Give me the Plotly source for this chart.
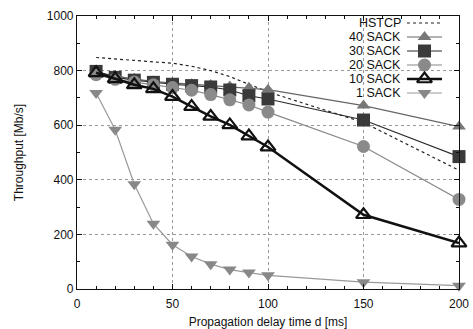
import plotly.graph_objects as go

delay = [10, 20, 30, 40, 50, 60, 70, 80, 90, 100, 150, 200]
hstcp = [848, 842, 837, 832, 827, 816, 800, 778, 750, 722, 610, 435]
sack40 = [795, 780, 770, 760, 755, 750, 747, 742, 737, 730, 672, 595]
sack30 = [797, 775, 765, 757, 750, 745, 740, 729, 708, 696, 619, 485]
sack20 = [785, 768, 758, 748, 738, 728, 712, 693, 674, 648, 522, 328]
sack10 = [792, 770, 748, 733, 705, 668, 632, 601, 560, 520, 272, 168]
sack1 = [718, 583, 384, 239, 162, 119, 91, 71, 60, 50, 25, 12]

x_ticks = [0, 50, 100, 150, 200]
y_ticks = [0, 200, 400, 600, 800, 1000]

FONT = "Liberation Sans, Arial, sans-serif"

# plot-area geometry in pixels
L, R, T, B = 77, 459, 16, 289
W, H = 473, 329

series = [
    dict(name="HSTCP", y=hstcp, mode="lines",
         line=dict(color="#222", width=1.2, dash="dot"), marker=None),
    dict(name="40 SACK", y=sack40, mode="lines+markers",
         line=dict(color="#666", width=1.2),
         marker=dict(symbol="triangle-up", size=12, color="#777")),
    dict(name="30 SACK", y=sack30, mode="lines+markers",
         line=dict(color="#2a2a2a", width=1.2),
         marker=dict(symbol="square", size=13, color="#3a3a3a")),
    dict(name="20 SACK", y=sack20, mode="lines+markers",
         line=dict(color="#888", width=1.2),
         marker=dict(symbol="circle", size=13, color="#8a8a8a")),
    dict(name="10 SACK", y=sack10, mode="lines+markers",
         line=dict(color="#111", width=2.5),
         marker=dict(symbol="triangle-up-open", size=13, color="#111",
                     line=dict(width=2.2, color="#111"))),
    dict(name="1 SACK", y=sack1, mode="lines+markers",
         line=dict(color="#999", width=1.2),
         marker=dict(symbol="triangle-down", size=12, color="#888")),
]

fig = go.Figure()
for s in series:
    kw = dict(x=delay, y=s["y"], name=s["name"], mode=s["mode"],
              line=s["line"], cliponaxis=False, showlegend=False)
    if s["marker"] is not None:
        kw["marker"] = s["marker"]
    fig.add_trace(go.Scatter(**kw))


def px_to_paper(px, py):
    return (px - L) / (R - L), (B - py) / (B - T)


# white key box hiding grid lines (gnuplot-style key)
bx0, by0 = px_to_paper(345, 99)
bx1, by1 = px_to_paper(450, 17)
fig.add_shape(type="rect", xref="paper", yref="paper", x0=bx0, x1=bx1, y0=by0, y1=by1,
              fillcolor="white", line=dict(width=0), layer="between")

# Custom key: label right-aligned, sample to its right, on an auxiliary
# pixel-unit axis overlaying the plot area.
key_rows_y = [23, 37, 51, 65, 79, 93]
key_text_x = 402
key_line_x = [407, 442]
for s, ry in zip(series, key_rows_y):
    fig.add_trace(go.Scatter(x=key_line_x, y=[ry, ry], mode="lines",
                             line=s["line"], xaxis="x2", yaxis="y2",
                             showlegend=False, hoverinfo="skip", cliponaxis=False))
    if s["marker"] is not None:
        fig.add_trace(go.Scatter(x=[sum(key_line_x) / 2], y=[ry], mode="markers",
                                 marker=s["marker"], xaxis="x2", yaxis="y2",
                                 showlegend=False, hoverinfo="skip", cliponaxis=False))
    ax, ay = px_to_paper(key_text_x, ry)
    fig.add_annotation(x=ax, y=ay, xref="paper", yref="paper", text=s["name"],
                       showarrow=False, xanchor="right", yanchor="middle",
                       borderpad=0,
                       font=dict(family=FONT, size=12.5, color="#111"))

axis_common = dict(
    showline=True, linecolor="#111", linewidth=1.2, mirror="allticks",
    ticks="inside", ticklen=5, tickcolor="#111",
    showgrid=True, gridcolor="#999", griddash="dot", gridwidth=1,
    zeroline=False, automargin=False,
    tickfont=dict(family=FONT, size=12, color="#111"),
    title_font=dict(family=FONT, size=12, color="#111"),
)

fig.update_layout(
    xaxis=dict(range=[0, 200], tickvals=x_ticks,
               minor=dict(ticks="inside", dtick=10, ticklen=3, tickcolor="#111", showgrid=False),
               title=dict(text="Propagation delay time d [ms]", standoff=10),
               ticklabelstandoff=3,
               **axis_common),
    yaxis=dict(range=[0, 1000], tickvals=y_ticks,
               minor=dict(ticks="inside", dtick=100, ticklen=3, tickcolor="#111", showgrid=False),
               title=dict(text="Throughput [Mb/s]", standoff=20),
               **axis_common),
    xaxis2=dict(overlaying="x", anchor="y2", range=[L, R], visible=False,
                showgrid=False, zeroline=False, fixedrange=True, automargin=False),
    yaxis2=dict(overlaying="y", anchor="x2", range=[B, T], visible=False,
                showgrid=False, zeroline=False, fixedrange=True, automargin=False),
    width=W, height=H,
    margin=dict(l=L, r=W - R, t=T, b=H - B, autoexpand=False),
    paper_bgcolor="white", plot_bgcolor="white",
    font=dict(family=FONT, size=12, color="#111"),
    showlegend=False,
)

fig.write_html("out.html", config={"displayModeBar": False},
               post_script="document.body.style.margin='0';document.body.style.overflow='hidden';")
